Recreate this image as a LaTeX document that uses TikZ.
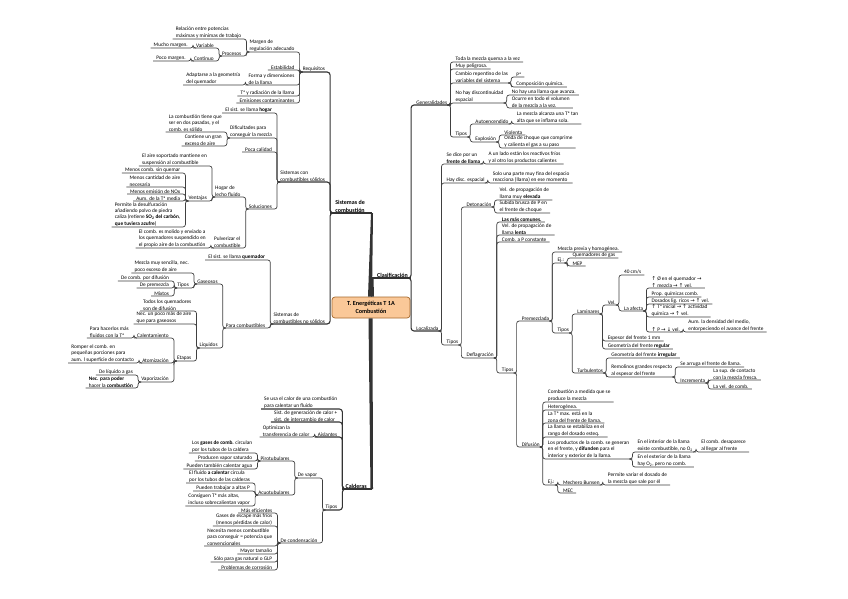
\documentclass[tikz,border=0pt]{standalone}
\usepackage{fontspec}
\setmainfont{Carlito}
\newfontfamily\symfont{DejaVu Sans}
\usepackage{tikz}
\usetikzlibrary{positioning, calc}

\definecolor{rootfill}{RGB}{250,200,152}
\definecolor{rootdraw}{RGB}{165,105,45}
\newcommand{\arrup}{{\symfont ↑}}
\newcommand{\arrdn}{{\symfont ↓}}
\newcommand{\arrto}{{\symfont →}}

\begin{document}
\begin{tikzpicture}[
    x=1pt, y=-1pt,                    % <── pixel grid, y grows downwards
    every node/.style={font=\fontsize{5.3}{6.4}\selectfont, inner xsep=3pt, inner ysep=0.6pt, align=left},
    lnode/.style={anchor=south east, xshift=-2pt},
    rnode/.style={anchor=south west, xshift=2pt},
    topic/.style={font=\fontsize{6}{7.2}\selectfont\bfseries},
    root/.style={draw=rootdraw, fill=rootfill, rounded corners=3pt, line width=0.7pt,
                 minimum width=78pt, minimum height=21pt, align=center,
                 font=\fontsize{6.2}{7.6}\selectfont\bfseries},
    lnk/.style={draw=black!75, line width=0.7pt, rounded corners=2.5pt},
    lnkb/.style={draw=black!80, line width=1.1pt, rounded corners=3pt},
    trunk/.style={fill=black!80}
    ]
    \path[use as bounding box, fill=white] (0,0) rectangle (848,599);

    % Central topic and main branches
    \node[root] (ctr) at (371,307.5) {T. Energéticas T 1A\\Combustión};
    \node[lnode, topic, align=center, inner xsep=5pt] (sdc) at (372,213) {Sistemas de\\combustión};
    \node[rnode, topic] (clas) at (372,278) {Clasificación};
    \node[lnode, topic] (cald) at (372,489) {Calderas};

    % Sistemas de combustión
    \node[lnode] (req) at (sdc.south west |- 0,72) {Requisitos};
    \node[lnode] (scs) at (sdc.south west |- 0,182) {Sistemas con\\combustibles sólidos};
    \node[lnode] (sns) at (sdc.south west |- 0,324) {Sistemas de\\combustibles no sólidos};

    \node[lnode] (marg) at (req.south west |- 0,52) {Margen de\\regulación adecuado};
    \node[lnode] (estab) at (req.south west |- 0,70) {Estabilidad};
    \node[lnode] (forma) at (req.south west |- 0,85) {Forma y dimensiones\\de la llama};
    \node[lnode] (trad) at (req.south west |- 0,96) {Tª y radiación de la llama};
    \node[lnode] (emis) at (req.south west |- 0,103) {Emisiones contaminantes};
    \node[lnode] (rel) at (marg.south west |- 0,39) {Relación entre potencias\\máximas y mínimas de trabajo};
    \node[lnode] (proc) at (marg.south west |- 0,56) {Procesos};
    \node[lnode] (var) at (proc.south west |- 0,48) {Variable};
    \node[lnode] (cont) at (proc.south west |- 0,61) {Continuo};
    \node[lnode] (mucho) at (var.south west |- 0,48) {Mucho margen.};
    \node[lnode] (poco) at (cont.south west |- 0,61) {Poco margen.};
    \node[lnode] (adap) at (forma.south west |- 0,85) {Adaptarse a la geometría\\del quemador};

    \node[lnode] (hogar) at (scs.south west |- 0,113) {El sist. se llama \textbf{hogar}};
    \node[lnode] (dif) at (scs.south west |- 0,138) {Dificultades para\\conseguir la mezcla};
    \node[lnode] (poca) at (scs.south west |- 0,152) {Poca calidad};
    \node[lnode] (sol) at (scs.south west |- 0,209) {Soluciones};
    \node[lnode] (dospas) at (dif.south west |- 0,132) {La combustión tiene que\\ser en dos pasadas, y el\\comb. es sólido};
    \node[lnode] (exceso) at (dif.south west |- 0,146) {Contiene un gran\\exceso de aire};
    \node[lnode] (lecho) at (sol.south west |- 0,197) {Hogar de\\lecho fluido};
    \node[lnode] (pulv) at (sol.south west |- 0,248) {Pulverizar el\\combustible};
    \node[lnode] (susp) at (lecho.south west |- 0,166) {El aire soportado mantiene en\\suspensión al combustible};
    \node[lnode] (vent) at (lecho.south west |- 0,201) {Ventajas};
    \node[lnode] (v1) at (vent.south west |- 0,173) {Menos comb. sin quemar};
    \node[lnode] (v2) at (vent.south west |- 0,187) {Menos cantidad de aire\\necesaria};
    \node[lnode] (v3) at (vent.south west |- 0,194) {Menos emisión de NOx};
    \node[lnode] (v4) at (vent.south west |- 0,201) {Aum. de la Tª media};
    \node[lnode] (v5) at (vent.south west |- 0,227) {Permite la desulfuración\\añadiendo polvo de piedra\\caliza (retiene \textbf{SO\textsubscript{2} del carbón},\\\textbf{que tuviera azufre})};
    \node[lnode] (molido) at (pulv.south west |- 0,248) {El comb. es molido y enviado a\\los quemadores suspendido en\\el propio aire de la combustión};

    \node[lnode] (quem) at (sns.south west |- 0,260) {El sist. se llama \textbf{quemador}};
    \node[lnode] (para) at (sns.south west |- 0,328) {Para combustibles};
    \node[lnode] (gas) at (para.south west |- 0,284) {Gaseosos};
    \node[lnode] (liq) at (para.south west |- 0,348) {Líquidos};
    \node[lnode] (mezsen) at (gas.south west |- 0,273) {Mezcla muy sencilla, nec.\\poco exceso de aire};
    \node[lnode] (gtipos) at (gas.south west |- 0,288) {Tipos};
    \node[lnode] (gdif) at (gtipos.south west |- 0,281) {De comb. por difusión};
    \node[lnode] (gpre) at (gtipos.south west |- 0,288) {De premezcla};
    \node[lnode] (gmix) at (gtipos.south west |- 0,296) {Mixtos};
    \node[lnode] (todos) at (liq.south west |- 0,311) {Todos los quemadores\\son de difusión};
    \node[lnode] (necmas) at (liq.south west |- 0,324) {Nec. un poco más de aire\\que para gaseosos};
    \node[lnode] (etapas) at (liq.south west |- 0,361) {Etapas};
    \node[lnode] (calen) at (etapas.south west |- 0,338) {Calentamiento};
    \node[lnode] (atom) at (etapas.south west |- 0,363) {Atomización};
    \node[lnode] (vapo) at (etapas.south west |- 0,382) {Vaporización};
    \node[lnode] (fluid) at (calen.south west |- 0,338) {Para hacerlos más\\fluidos con la Tª};
    \node[lnode] (romper) at (atom.south west |- 0,363) {Romper el comb. en\\pequeñas porciones para\\aum. l superficie de contacto};
    \node[lnode] (liqgas) at (vapo.south west |- 0,375) {De líquido a gas};
    \node[lnode] (necpod) at (vapo.south west |- 0,388) {\textbf{Nec. para poder}\\hacer la \textbf{combustión}};

    % Calderas
    \node[lnode] (seusa) at (cald.south west |- 0,409) {Se usa el calor de una combustión\\para calentar un fluido};
    \node[lnode] (sist) at (cald.south west |- 0,422) {Sist. de generación de calor +\\sist. de intercambio de calor};
    \node[lnode] (aisl) at (cald.south west |- 0,437) {Aislantes};
    \node[lnode] (optim) at (aisl.south west |- 0,437) {Optimizan la\\transferencia de calor};
    \node[lnode] (ctipos) at (cald.south west |- 0,510) {Tipos};
    \node[lnode] (devap) at (ctipos.south west |- 0,478) {De vapor};
    \node[lnode] (decond) at (ctipos.south west |- 0,543) {De condensación};
    \node[lnode] (piro) at (devap.south west |- 0,461) {Pirotubulares};
    \node[lnode] (acuo) at (devap.south west |- 0,495) {Acuotubulares};
    \node[lnode] (p1) at (piro.south west |- 0,453) {Los \textbf{gases de comb.} circulan\\por los tubos de la caldera};
    \node[lnode] (p2) at (piro.south west |- 0,461) {Producen vapor saturado};
    \node[lnode] (p3) at (piro.south west |- 0,469) {Pueden también calentar agua};
    \node[lnode] (a1) at (acuo.south west |- 0,483) {El fluido \textbf{a calentar} circula\\por los tubos de las calderas};
    \node[lnode] (a2) at (acuo.south west |- 0,491) {Pueden trabajar a altas P};
    \node[lnode] (a3) at (acuo.south west |- 0,506) {Consiguen Tª más altas,\\incluso sobrecalientan vapor};
    \node[lnode] (c1) at (decond.south west |- 0,513) {Más eficientes};
    \node[lnode] (c2) at (decond.south west |- 0,526) {Gases de escape más fríos\\(menos pérdidas de calor)};
    \node[lnode] (c3) at (decond.south west |- 0,546) {Necesita menos combustible\\para conseguir = potencia que\\convencionales};
    \node[lnode] (c4) at (decond.south west |- 0,554) {Mayor tamaño};
    \node[lnode] (c5) at (decond.south west |- 0,562) {Sólo para gas natural o GLP};
    \node[lnode] (c6) at (decond.south west |- 0,570) {Problemas de corrosión};

    % Clasificación
    \node[rnode] (gen) at (clas.south east |- 0,105) {Generalidades};
    \node[rnode] (loc) at (clas.south east |- 0,331) {Localizada};

    \node[rnode] (g1) at (gen.south east |- 0,62) {Toda la mezcla quema a la vez};
    \node[rnode] (g2) at (gen.south east |- 0,69) {Muy peligrosa.};
    \node[rnode] (g3) at (gen.south east |- 0,83) {Cambio repentino de las\\variables del sistema};
    \node[rnode] (g4) at (gen.south east |- 0,103) {No hay discontinuidad\\espacial};
    \node[rnode] (gtip) at (gen.south east |- 0,137) {Tipos};
    \node[rnode] (pres) at (g3.south east |- 0,77) {Pª};
    \node[rnode] (comp) at (g3.south east |- 0,87) {Composición química.};
    \node[rnode] (nollama) at (g4.south east |- 0,95) {No hay una llama que avanza.};
    \node[rnode] (ocurre) at (g4.south east |- 0,108) {Ocurre en todo el volumen\\de la mezcla a la vez.};
    \node[rnode] (auto) at (gtip.south east |- 0,124) {Autoencendido};
    \node[rnode] (expl) at (gtip.south east |- 0,142) {Explosión};
    \node[rnode] (inflama) at (auto.south east |- 0,124) {La mezcla alcanza una Tª tan\\alta que se inflama sola.};
    \node[rnode] (viol) at (expl.south east |- 0,135) {Violenta};
    \node[rnode] (onda) at (expl.south east |- 0,148) {Onda de choque que comprime\\y calienta el gas a su paso};

    \node[rnode] (sedice) at (loc.south east |- 0,164) {Se dice por un\\\textbf{frente de llama}};
    \node[rnode] (haydisc) at (loc.south east |- 0,183) {Hay disc. espacial};
    \node[rnode] (ltipos) at (loc.south east |- 0,345) {Tipos};
    \node[rnode] (alado) at (sedice.south east |- 0,164) {A un lado están los reactivos fríos\\y al otro los productos calientes};
    \node[rnode] (fina) at (haydisc.south east |- 0,183) {Solo una parte muy fina del espacio\\reacciona (llama) en ese momento};
    \node[rnode] (deton) at (ltipos.south east |- 0,207) {Detonación};
    \node[rnode] (defla) at (ltipos.south east |- 0,358) {Deflagración};
    \node[rnode] (d1) at (deton.south east |- 0,200) {Vel. de propagación de\\llama muy \textbf{elevada}};
    \node[rnode] (d2) at (deton.south east |- 0,213) {Subida brusca de P en\\el frente de choque};
    \node[rnode] (f1) at (defla.south east |- 0,222) {\textbf{Las más comunes.}};
    \node[rnode] (f2) at (defla.south east |- 0,235) {Vel. de propagación de\\llama \textbf{lenta}};
    \node[rnode] (f3) at (defla.south east |- 0,242) {Comb. a P constante};
    \node[rnode] (ftipos) at (defla.south east |- 0,373) {Tipos};
    \node[rnode] (prem) at (ftipos.south east |- 0,321) {Premezclada};
    \node[rnode] (difu) at (ftipos.south east |- 0,447) {Difusión};
    \node[rnode] (mprev) at (prem.south east |- 0,252) {Mezcla previa y homogénea.};
    \node[rnode] (ej1) at (prem.south east |- 0,263) {Ej.:};
    \node[rnode] (ptipos) at (prem.south east |- 0,333) {Tipos};
    \node[rnode] (qgas) at (ej1.south east |- 0,258) {Quemadores de gas};
    \node[rnode] (mep) at (ej1.south east |- 0,266) {MEP};
    \node[rnode] (lam) at (ptipos.south east |- 0,314) {Laminares};
    \node[rnode] (turb) at (ptipos.south east |- 0,373) {Turbulentos};
    \node[rnode] (vel) at (lam.south east |- 0,305) {Vel.};
    \node[rnode] (esp) at (lam.south east |- 0,341) {Espesor del frente 1 mm};
    \node[rnode] (georeg) at (lam.south east |- 0,349) {Geometría del frente \textbf{regular}};
    \node[rnode] (cm) at (vel.south east |- 0,275) {40 cm/s};
    \node[rnode] (afecta) at (vel.south east |- 0,311) {La afecta};
    \node[rnode] (af1) at (afecta.south east |- 0,288) {\arrup\ Ø en el quemador \arrto\\\arrup\ mezcla \arrto\ \arrup\ vel.};
    \node[rnode] (af2) at (afecta.south east |- 0,297) {Prop. químicas comb.};
    \node[rnode] (af3) at (afecta.south east |- 0,304) {Dosados lig. ricos \arrto\ \arrup\ vel.};
    \node[rnode] (af4) at (afecta.south east |- 0,317) {\arrup\ Tª inicial \arrto\ \arrup\ actividad\\química \arrto\ \arrup\ vel.};
    \node[rnode] (af5) at (afecta.south east |- 0,332) {\arrup\ P \arrto\ \arrdn\ vel.};
    \node[rnode] (dens) at (af5.south east |- 0,332) {Aum. la densidad del medio,\\entorpeciendo el avance del frente};
    \node[rnode] (geoirr) at (turb.south east |- 0,358) {Geometría del frente \textbf{irregular}};
    \node[rnode] (remol) at (turb.south east |- 0,377) {Remolinos grandes respecto\\al espesor del frente};
    \node[rnode] (arruga) at (remol.south east |- 0,367) {Se arruga el frente de llama.};
    \node[rnode] (incr) at (remol.south east |- 0,383) {Incrementa};
    \node[rnode] (supc) at (incr.south east |- 0,380) {La sup. de contacto\\con la mezcla fresca.};
    \node[rnode] (velc) at (incr.south east |- 0,389) {La vel. de comb.};
    \node[rnode] (df1) at (difu.south east |- 0,402) {Combustión a medida que se\\produce la mezcla};
    \node[rnode] (df2) at (difu.south east |- 0,410) {Heterogénea.};
    \node[rnode] (df3) at (difu.south east |- 0,423) {La Tª max. está en la\\zona del frente de llama.};
    \node[rnode] (df4) at (difu.south east |- 0,437) {La llama se estabiliza en el\\rango del dosado esteq.};
    \node[rnode] (df5) at (difu.south east |- 0,459) {Los productos de la comb. se generan\\en el frente, y \textbf{difunden} para el\\interior y exterior de la llama.};
    \node[rnode] (ej2) at (difu.south east |- 0,485) {Ej.:};
    \node[rnode] (inter) at (df5.south east |- 0,452) {En el interior de la llama\\existe combustible, no O\textsubscript{2}};
    \node[rnode] (exter) at (df5.south east |- 0,467) {En el exterior de la llama\\hay O\textsubscript{2}, pero no comb.};
    \node[rnode] (desap) at (inter.south east |- 0,452) {El comb. desaparece\\al llegar al frente};
    \node[rnode] (bunsen) at (ej2.south east |- 0,485) {Mechero Bunsen};
    \node[rnode] (mec) at (ej2.south east |- 0,493) {MEC};
    \node[rnode] (variar) at (bunsen.south east |- 0,485) {Permite variar el dosado de\\la mezcla que sale por él};

    % Trunks from the central topic
    \fill[trunk] ([xshift=-3pt]ctr.north) -- ([xshift=1pt]sdc.south east) -- ([xshift=3pt]sdc.south east) -- ([xshift=1pt]ctr.north) -- cycle;
    \fill[trunk] ([xshift=0pt]ctr.north) -- ([xshift=-2.5pt]clas.south west) -- ([xshift=-0.5pt]clas.south west) -- ([xshift=3pt]ctr.north) -- cycle;
    \fill[trunk] ([xshift=-2.5pt]ctr.south) -- ([xshift=0.5pt]cald.south east) -- ([xshift=3pt]cald.south east) -- ([xshift=1.5pt]ctr.south) -- cycle;
    \draw[lnkb] ([xshift=2pt]sdc.south east) -- (sdc.south west);
    \draw[lnkb] ([xshift=-2pt]clas.south west) -- (clas.south east);
    \draw[lnkb] ([xshift=2pt]cald.south east) -- (cald.south west);

    % Links, left side
    \foreach \p/\c in {sdc/req, sdc/scs, sdc/sns, cald/seusa, cald/sist, cald/aisl, cald/ctipos}
        \draw[lnkb] ([xshift=3pt]\p.south west) -- (\p.south west) |- (\c.south west);
    \foreach \p/\c in {req/marg, req/estab, req/forma, req/trad, req/emis, marg/rel, marg/proc,
                       proc/var, proc/cont, var/mucho, cont/poco, forma/adap,
                       scs/hogar, scs/dif, scs/poca, scs/sol, dif/dospas, dif/exceso, sol/lecho, sol/pulv,
                       lecho/susp, lecho/vent, vent/v1, vent/v2, vent/v3, vent/v4, vent/v5, pulv/molido,
                       sns/quem, sns/para, para/gas, para/liq, gas/mezsen, gas/gtipos,
                       gtipos/gdif, gtipos/gpre, gtipos/gmix, liq/todos, liq/necmas, liq/etapas,
                       etapas/calen, etapas/atom, etapas/vapo, calen/fluid, atom/romper, vapo/liqgas, vapo/necpod,
                       aisl/optim, ctipos/devap, ctipos/decond, devap/piro, devap/acuo,
                       piro/p1, piro/p2, piro/p3, acuo/a1, acuo/a2, acuo/a3,
                       decond/c1, decond/c2, decond/c3, decond/c4, decond/c5, decond/c6}
        \draw[lnk] ([xshift=3pt]\p.south west) -- (\p.south west) |- (\c.south west);

    % Links, right side
    \foreach \p/\c in {clas/gen, clas/loc}
        \draw[lnkb] ([xshift=-3pt]\p.south east) -- (\p.south east) |- (\c.south east);
    \foreach \p/\c in {gen/g1, gen/g2, gen/g3, gen/g4, gen/gtip, g3/pres, g3/comp, g4/nollama, g4/ocurre,
                       gtip/auto, gtip/expl, auto/inflama, expl/viol, expl/onda,
                       loc/sedice, loc/haydisc, loc/ltipos, sedice/alado, haydisc/fina,
                       ltipos/deton, ltipos/defla, deton/d1, deton/d2,
                       defla/f1, defla/f2, defla/f3, defla/ftipos, ftipos/prem, ftipos/difu,
                       prem/mprev, prem/ej1, prem/ptipos, ej1/qgas, ej1/mep, ptipos/lam, ptipos/turb,
                       lam/vel, lam/esp, lam/georeg, vel/cm, vel/afecta,
                       afecta/af1, afecta/af2, afecta/af3, afecta/af4, afecta/af5, af5/dens,
                       turb/geoirr, turb/remol, remol/arruga, remol/incr, incr/supc, incr/velc,
                       difu/df1, difu/df2, difu/df3, difu/df4, difu/df5, difu/ej2,
                       df5/inter, df5/exter, inter/desap, ej2/bunsen, ej2/mec, bunsen/variar}
        \draw[lnk] ([xshift=-3pt]\p.south east) -- (\p.south east) |- (\c.south east);
\end{tikzpicture}
\end{document}
